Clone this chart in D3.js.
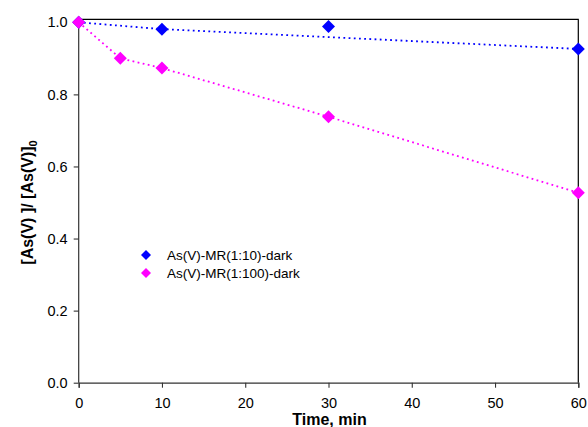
<!DOCTYPE html>
<html>
<head>
<meta charset="utf-8">
<script src="https://cdn.jsdelivr.net/npm/d3@7"></script>
<style>
	body { margin: 0; background: #fff; }
	svg { display: block; font-family: "Liberation Sans", Arial, sans-serif; }
</style>
</head>
<body>
<svg id="chart" width="588" height="427"></svg>
<script>
const xTicks = [0, 10, 20, 30, 40, 50, 60];
const yTicks = [0, 0.2, 0.4, 0.6, 0.8, 1.0];

// As(V)-MR(1:10)-dark
const blueTime = [0, 10, 30, 60];
const blueValue = [1.0, 0.981, 0.988, 0.926];
// dotted line in the picture joins these points only
const blueLineTime = [0, 10, 60];
const blueLineValue = [1.0, 0.981, 0.926];

// As(V)-MR(1:100)-dark
const pinkTime = [0, 5, 10, 30, 60];
const pinkValue = [1.0, 0.900, 0.873, 0.738, 0.527];

const seriesNames = ["As(V)-MR(1:10)-dark", "As(V)-MR(1:100)-dark"];
const seriesColors = ["#0000ff", "#ff00ff"];

const svg = d3.select("#chart");
const margin = { left: 78.7, right: 9.7, top: 22.3, bottom: 44.3 };
const width = 588, height = 427;

const x = d3.scaleLinear().domain([0, 60]).range([margin.left, width - margin.right]);
const y = d3.scaleLinear().domain([0, 1]).range([height - margin.bottom, margin.top]);

function diamond(r) {
	return `M0,${-r}L${r},0L0,${r}L${-r},0Z`;
}

// frame (top and right)
svg.append("path")
	.attr("d", `M${x(0)},${y(1) - 3}H${x(60) + 0.5}M${x(60)},${y(1) - 3}V${y(0)}`)
	.attr("fill", "none")
	.attr("stroke", "#000")
	.attr("stroke-width", 1.2);

const xAxis = svg.append("g")
	.attr("transform", `translate(0,${y(0)})`)
	.call(d3.axisBottom(x).tickValues(xTicks).tickSize(5).tickPadding(10).tickFormat(d3.format("d")));

const yAxis = svg.append("g")
	.attr("transform", `translate(${x(0)},0)`)
	.call(d3.axisLeft(y).tickValues(yTicks).tickSize(5).tickPadding(6).tickFormat(d3.format(".1f")));

[xAxis, yAxis].forEach((g) => {
	g.select(".domain").attr("stroke", "#333").attr("stroke-width", 1.2);
	g.selectAll(".tick line").attr("stroke", "#333").attr("stroke-width", 1.1);
	g.selectAll(".tick text").attr("fill", "#000").style("font-size", "14.5px");
});
yAxis.select(".domain").attr("d", `M0,${y(1) - 3}V${y(0)}`);

// dotted lines
const line = d3.line().x((d) => x(d[0])).y((d) => y(d[1]));

svg.append("path")
	.datum(d3.zip(blueLineTime, blueLineValue))
	.attr("d", line)
	.attr("fill", "none")
	.attr("stroke", seriesColors[0])
	.attr("stroke-width", 1.8)
	.attr("stroke-dasharray", "1.8,3.4");

svg.append("path")
	.datum(d3.zip(pinkTime, pinkValue))
	.attr("d", line)
	.attr("fill", "none")
	.attr("stroke", seriesColors[1])
	.attr("stroke-width", 1.8)
	.attr("stroke-dasharray", "1.8,3.4");

// markers
svg.selectAll(".blue")
	.data(d3.zip(blueTime, blueValue))
	.join("path")
	.attr("class", "blue")
	.attr("d", diamond(6.5))
	.attr("transform", (d) => `translate(${x(d[0])},${y(d[1])})`)
	.attr("fill", seriesColors[0]);

svg.selectAll(".pink")
	.data(d3.zip(pinkTime, pinkValue))
	.join("path")
	.attr("class", "pink")
	.attr("d", diamond(6.5))
	.attr("transform", (d) => `translate(${x(d[0])},${y(d[1])})`)
	.attr("fill", seriesColors[1]);

// legend
const legend = svg.append("g").attr("transform", "translate(146,255)");
seriesNames.forEach((name, i) => {
	const row = legend.append("g").attr("transform", `translate(0,${i * 18})`);
	row.append("path").attr("d", diamond(5)).attr("fill", seriesColors[i]);
	row.append("text")
		.attr("x", 21)
		.attr("y", 5)
		.style("font-size", "13.5px")
		.text(name);
});

// axis titles
svg.append("text")
	.attr("x", 329.5)
	.attr("y", 424.5)
	.attr("text-anchor", "middle")
	.style("font-size", "16px")
	.style("font-weight", "bold")
	.text("Time, min");

const yTitle = svg.append("text")
	.attr("transform", `translate(33,${(y(0) + y(1)) / 2}) rotate(-90)`)
	.attr("text-anchor", "middle")
	.style("font-size", "16px")
	.style("font-weight", "bold");
yTitle.append("tspan").text("[As(V) ]/ [As(V)]");
yTitle.append("tspan").attr("dy", 4).style("font-size", "11px").text("0");
</script>
</body>
</html>
